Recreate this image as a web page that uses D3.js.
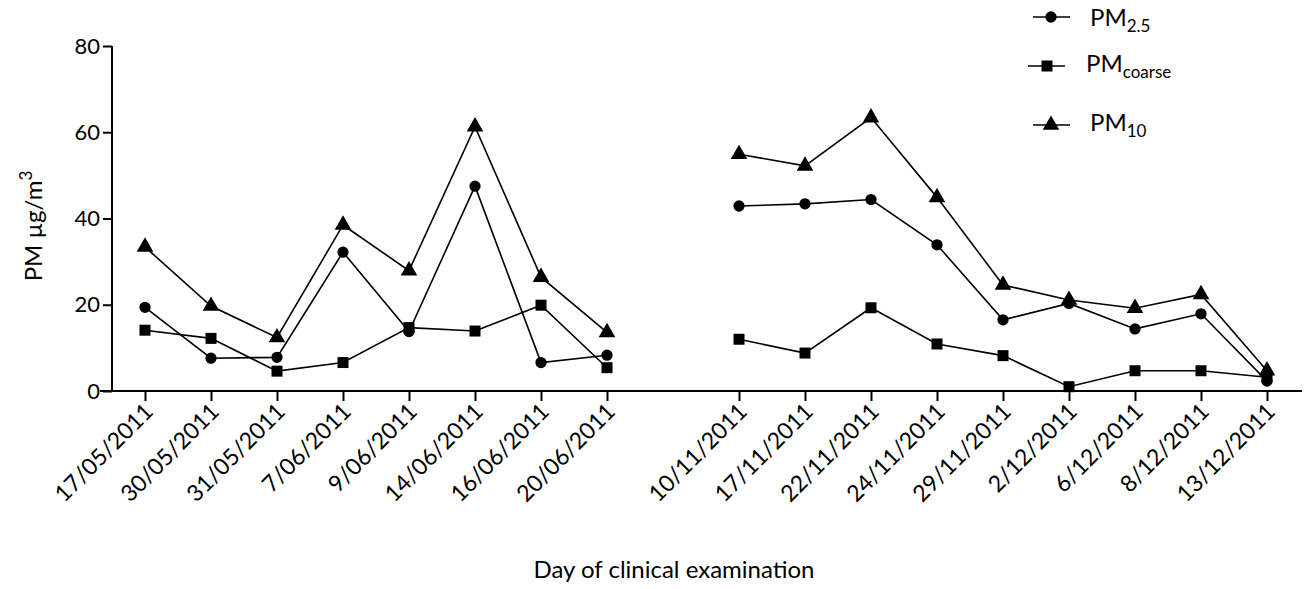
<!DOCTYPE html>
<html>
<head>
<meta charset="utf-8">
<script src="https://cdn.jsdelivr.net/npm/d3@7"></script>
<style>
  html, body { margin: 0; padding: 0; background: #fff; }
  svg { display: block; }
  text { font-family: "Lato", "Open Sans", sans-serif; fill: #000; }
</style>
</head>
<body>
<svg id="chart" width="1316" height="589"></svg>
<script>
// Categories ("" marks the empty gap between the two campaigns)
const categories = ["17/05/2011","30/05/2011","31/05/2011","7/06/2011","9/06/2011","14/06/2011","16/06/2011","20/06/2011","",
  "10/11/2011","17/11/2011","22/11/2011","24/11/2011","29/11/2011","2/12/2011","6/12/2011","8/12/2011","13/12/2011"];
const pm25    = [19.4, 7.6, 7.8, 32.2, 13.8, 47.5, 6.6, 8.3, null, 42.9, 43.4, 44.4, 33.9, 16.5, 20.3, 14.4, 17.9, 2.3];
const pmCoarse= [14.1, 12.2, 4.6, 6.6, 14.7, 13.9, 19.9, 5.4, null, 12.0, 8.8, 19.3, 10.9, 8.2, 1.0, 4.7, 4.7, 3.2];
const pm10    = [33.4, 19.7, 12.4, 38.5, 27.9, 61.3, 26.4, 13.6, null, 54.9, 52.2, 63.4, 44.9, 24.6, 21.1, 19.2, 22.4, 4.7];
const yTicks  = [0, 20, 40, 60, 80];

const svg = d3.select("#chart");
const x = d3.scalePoint().domain(d3.range(categories.length)).range([145, 1267]);
const y = d3.scaleLinear().domain([0, 80]).range([391, 46]);

// Y axis
const yAxis = d3.axisLeft(y).tickValues(yTicks).tickSize(9).tickPadding(3);
const gy = svg.append("g").attr("transform", "translate(112,0)").call(yAxis);
gy.select(".domain").attr("stroke-width", 2).attr("d", "M0,46V391");
gy.selectAll(".tick line").attr("stroke-width", 2);
gy.selectAll(".tick text").style("font-size", "22px").style("font-family", "Lato, sans-serif");

// X axis
const xIdx = d3.range(categories.length).filter(i => categories[i] !== "");
const xAxis = d3.axisBottom(x).tickValues(xIdx).tickFormat(i => categories[i]).tickSize(10);
const gx = svg.append("g").attr("transform", "translate(0,391)").call(xAxis);
gx.select(".domain").attr("stroke-width", 2).attr("d", "M100,0H1302");
gx.selectAll(".tick line").attr("stroke-width", 2);
gx.selectAll(".tick text")
  .style("font-size", "23px").style("font-family", "Lato, sans-serif")
  .attr("text-anchor", "end")
  .attr("dy", "0")
  .attr("transform", "translate(9,22) rotate(-45)")
  .attr("x", 0).attr("y", 0);

// Axis titles
svg.append("text").attr("x", 674).attr("y", 578).attr("text-anchor", "middle")
  .style("font-size", "24px").text("Day of clinical examination");
const yt = svg.append("text").attr("transform", "translate(42,226) rotate(-90)")
  .attr("text-anchor", "middle").style("font-size", "24px");
yt.append("tspan").text("PM µg/m");
yt.append("tspan").attr("dy", "-10").style("font-size", "17px").text("3");

// Series
const series = [
  {name: "pm25", values: pm25, shape: d3.symbolCircle, size: 100},
  {name: "pmCoarse", values: pmCoarse, shape: d3.symbolSquare, size: 121},
  {name: "pm10", values: pm10, shape: d3.symbolTriangle, size: 120}
];
const line = d3.line().defined(d => d[1] !== null).x(d => x(d[0])).y(d => y(d[1]));
series.forEach(s => {
  const pts = s.values.map((v, i) => [i, v]);
  svg.append("path").datum(pts).attr("d", line).attr("fill", "none")
    .attr("stroke", "#000").attr("stroke-width", 1.6);
  svg.append("g").selectAll("path").data(pts.filter(d => d[1] !== null)).join("path")
    .attr("transform", d => `translate(${x(d[0])},${y(d[1])})`)
    .attr("d", d3.symbol().type(s.shape).size(s.size))
    .attr("fill", "#000");
});

// Legend
const legend = [
  {shape: d3.symbolCircle, size: 100, lx1: 1033, lx2: 1070, ly: 17, mx: 1051, tx: 1090, ty: 26, main: "PM", sub: "2.5"},
  {shape: d3.symbolSquare, size: 121, lx1: 1028, lx2: 1065, ly: 66, mx: 1047, tx: 1086, ty: 72, main: "PM", sub: "coarse"},
  {shape: d3.symbolTriangle, size: 120, lx1: 1033, lx2: 1070, ly: 125, mx: 1051, tx: 1090, ty: 131, main: "PM", sub: "10"}
];
legend.forEach(l => {
  svg.append("line").attr("x1", l.lx1).attr("x2", l.lx2).attr("y1", l.ly).attr("y2", l.ly)
    .attr("stroke", "#000").attr("stroke-width", 1.6);
  svg.append("path").attr("transform", `translate(${l.mx},${l.ly})`)
    .attr("d", d3.symbol().type(l.shape).size(l.size)).attr("fill", "#000");
  const t = svg.append("text").attr("x", l.tx).attr("y", l.ty).style("font-size", "24px");
  t.append("tspan").text(l.main);
  t.append("tspan").attr("dy", "6").style("font-size", "17px").text(l.sub);
});
</script>
</body>
</html>
